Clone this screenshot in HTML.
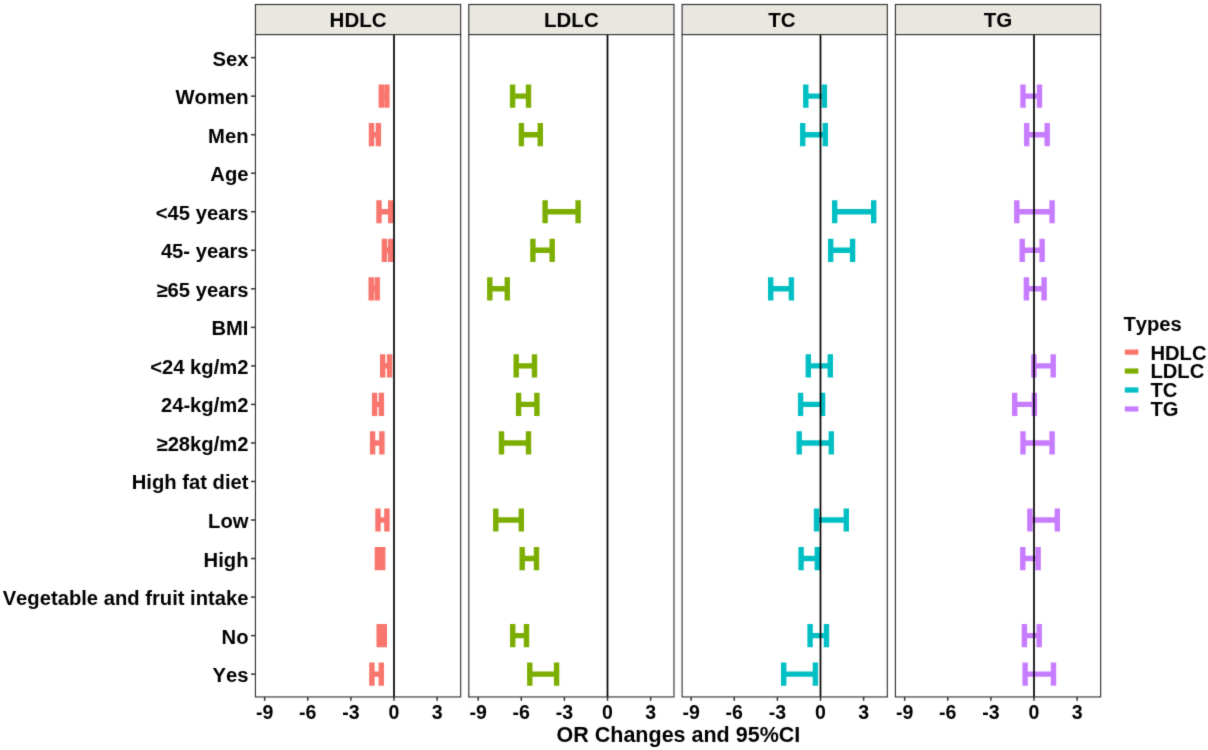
<!DOCTYPE html><html><head><meta charset="utf-8"><style>html,body{margin:0;padding:0;background:#fff;}svg{display:block;}text{font-family:"Liberation Sans",sans-serif;font-weight:bold;fill:#000;font-kerning:none;}</style></head><body>
<svg width="1208" height="750" viewBox="0 0 1208 750">
<defs><filter id="bl" x="0" y="0" width="1208" height="750" filterUnits="userSpaceOnUse" color-interpolation-filters="sRGB"><feConvolveMatrix order="3" kernelMatrix="0.01440 0.09120 0.01440 0.09120 0.57760 0.09120 0.01440 0.09120 0.01440" edgeMode="duplicate" preserveAlpha="true"/></filter></defs><g filter="url(#bl)">
<rect x="0" y="0" width="1208" height="750" fill="#fff"/>
<rect x="255.45" y="4.5" width="205.2" height="30.1" fill="#EAE7E1" stroke="#333333" stroke-width="1.15"/>
<text x="358.05" y="27" font-size="20.5" text-anchor="middle">HDLC</text>
<rect x="255.45" y="34.6" width="205.2" height="662.35" fill="#fff" stroke="none"/>
<path d="M381.3 84.55V107.75M386.9 84.55V107.75M381.3 96.15H386.9M371.5 123.09V146.29M378.4 123.09V146.29M371.5 134.69H378.4M379 200.15V223.35M390.7 200.15V223.35M379 211.75H390.7M384.4 238.69V261.89M390.7 238.69V261.89M384.4 250.29H390.7M371.2 277.22V300.42M377.2 277.22V300.42M371.2 288.82H377.2M382.7 354.28V377.48M389.6 354.28V377.48M382.7 365.88H389.6M374.6 392.82V416.02M381.4 392.82V416.02M374.6 404.42H381.4M372.6 431.35V454.55M381.9 431.35V454.55M372.6 442.95H381.9M378 508.42V531.62M386.9 508.42V531.62M378 520.02H386.9M377.4 546.95V570.15M382.7 546.95V570.15M377.4 558.55H382.7M379.2 624.01V647.22M384.3 624.01V647.22M379.2 635.62H384.3M371.9 662.55V685.75M381.3 662.55V685.75M371.9 674.15H381.3" fill="none" stroke="#F8766D" stroke-width="5.4" stroke-linecap="butt"/>
<line x1="394" y1="34.6" x2="394" y2="696.95" stroke="#000" stroke-width="1.7"/>
<rect x="255.45" y="34.6" width="205.2" height="662.35" fill="none" stroke="#333333" stroke-width="1.15"/>
<line x1="264.67" y1="696.95" x2="264.67" y2="700.8" stroke="#333333" stroke-width="1.5"/>
<text x="264.67" y="718.6" font-size="19.5" text-anchor="middle">-9</text>
<line x1="307.78" y1="696.95" x2="307.78" y2="700.8" stroke="#333333" stroke-width="1.5"/>
<text x="307.78" y="718.6" font-size="19.5" text-anchor="middle">-6</text>
<line x1="350.89" y1="696.95" x2="350.89" y2="700.8" stroke="#333333" stroke-width="1.5"/>
<text x="350.89" y="718.6" font-size="19.5" text-anchor="middle">-3</text>
<line x1="394" y1="696.95" x2="394" y2="700.8" stroke="#333333" stroke-width="1.5"/>
<text x="394" y="718.6" font-size="19.5" text-anchor="middle">0</text>
<line x1="437.11" y1="696.95" x2="437.11" y2="700.8" stroke="#333333" stroke-width="1.5"/>
<text x="437.11" y="718.6" font-size="19.5" text-anchor="middle">3</text>
<rect x="468.78" y="4.5" width="205.2" height="30.1" fill="#EAE7E1" stroke="#333333" stroke-width="1.15"/>
<text x="571.38" y="27" font-size="20.5" text-anchor="middle">LDLC</text>
<rect x="468.78" y="34.6" width="205.2" height="662.35" fill="#fff" stroke="none"/>
<path d="M512.6 84.55V107.75M528.5 84.55V107.75M512.6 96.15H528.5M521.4 123.09V146.29M540.3 123.09V146.29M521.4 134.69H540.3M545.1 200.15V223.35M578.1 200.15V223.35M545.1 211.75H578.1M532.9 238.69V261.89M552.2 238.69V261.89M532.9 250.29H552.2M489.8 277.22V300.42M507.3 277.22V300.42M489.8 288.82H507.3M516.2 354.28V377.48M534.5 354.28V377.48M516.2 365.88H534.5M518.6 392.82V416.02M536.9 392.82V416.02M518.6 404.42H536.9M501.5 431.35V454.55M528.5 431.35V454.55M501.5 442.95H528.5M495.8 508.42V531.62M521.3 508.42V531.62M495.8 520.02H521.3M522.2 546.95V570.15M536.5 546.95V570.15M522.2 558.55H536.5M512.7 624.01V647.22M526.5 624.01V647.22M512.7 635.62H526.5M529.8 662.55V685.75M556.6 662.55V685.75M529.8 674.15H556.6" fill="none" stroke="#7CAE00" stroke-width="5.4" stroke-linecap="butt"/>
<line x1="607.5" y1="34.6" x2="607.5" y2="696.95" stroke="#000" stroke-width="1.7"/>
<rect x="468.78" y="34.6" width="205.2" height="662.35" fill="none" stroke="#333333" stroke-width="1.15"/>
<line x1="478.17" y1="696.95" x2="478.17" y2="700.8" stroke="#333333" stroke-width="1.5"/>
<text x="478.17" y="718.6" font-size="19.5" text-anchor="middle">-9</text>
<line x1="521.28" y1="696.95" x2="521.28" y2="700.8" stroke="#333333" stroke-width="1.5"/>
<text x="521.28" y="718.6" font-size="19.5" text-anchor="middle">-6</text>
<line x1="564.39" y1="696.95" x2="564.39" y2="700.8" stroke="#333333" stroke-width="1.5"/>
<text x="564.39" y="718.6" font-size="19.5" text-anchor="middle">-3</text>
<line x1="607.5" y1="696.95" x2="607.5" y2="700.8" stroke="#333333" stroke-width="1.5"/>
<text x="607.5" y="718.6" font-size="19.5" text-anchor="middle">0</text>
<line x1="650.61" y1="696.95" x2="650.61" y2="700.8" stroke="#333333" stroke-width="1.5"/>
<text x="650.61" y="718.6" font-size="19.5" text-anchor="middle">3</text>
<rect x="682.11" y="4.5" width="205.2" height="30.1" fill="#EAE7E1" stroke="#333333" stroke-width="1.15"/>
<text x="781.91" y="27" font-size="20.5" text-anchor="middle">TC</text>
<rect x="682.11" y="34.6" width="205.2" height="662.35" fill="#fff" stroke="none"/>
<path d="M805.8 84.55V107.75M824.4 84.55V107.75M805.8 96.15H824.4M802.7 123.09V146.29M825.3 123.09V146.29M802.7 134.69H825.3M834.7 200.15V223.35M873.7 200.15V223.35M834.7 211.75H873.7M830.7 238.69V261.89M852.6 238.69V261.89M830.7 250.29H852.6M770.7 277.22V300.42M791.4 277.22V300.42M770.7 288.82H791.4M808.3 354.28V377.48M830.3 354.28V377.48M808.3 365.88H830.3M800.6 392.82V416.02M822.6 392.82V416.02M800.6 404.42H822.6M799.2 431.35V454.55M831.3 431.35V454.55M799.2 442.95H831.3M816.5 508.42V531.62M846.3 508.42V531.62M816.5 520.02H846.3M801.1 546.95V570.15M817.3 546.95V570.15M801.1 558.55H817.3M810.1 624.01V647.22M826.5 624.01V647.22M810.1 635.62H826.5M783.7 662.55V685.75M815.4 662.55V685.75M783.7 674.15H815.4" fill="none" stroke="#00BFC4" stroke-width="5.4" stroke-linecap="butt"/>
<line x1="820.5" y1="34.6" x2="820.5" y2="696.95" stroke="#000" stroke-width="1.7"/>
<rect x="682.11" y="34.6" width="205.2" height="662.35" fill="none" stroke="#333333" stroke-width="1.15"/>
<line x1="691.17" y1="696.95" x2="691.17" y2="700.8" stroke="#333333" stroke-width="1.5"/>
<text x="691.17" y="718.6" font-size="19.5" text-anchor="middle">-9</text>
<line x1="734.28" y1="696.95" x2="734.28" y2="700.8" stroke="#333333" stroke-width="1.5"/>
<text x="734.28" y="718.6" font-size="19.5" text-anchor="middle">-6</text>
<line x1="777.39" y1="696.95" x2="777.39" y2="700.8" stroke="#333333" stroke-width="1.5"/>
<text x="777.39" y="718.6" font-size="19.5" text-anchor="middle">-3</text>
<line x1="820.5" y1="696.95" x2="820.5" y2="700.8" stroke="#333333" stroke-width="1.5"/>
<text x="820.5" y="718.6" font-size="19.5" text-anchor="middle">0</text>
<line x1="863.61" y1="696.95" x2="863.61" y2="700.8" stroke="#333333" stroke-width="1.5"/>
<text x="863.61" y="718.6" font-size="19.5" text-anchor="middle">3</text>
<rect x="895.44" y="4.5" width="205.2" height="30.1" fill="#EAE7E1" stroke="#333333" stroke-width="1.15"/>
<text x="998.04" y="27" font-size="20.5" text-anchor="middle">TG</text>
<rect x="895.44" y="34.6" width="205.2" height="662.35" fill="#fff" stroke="none"/>
<path d="M1023 84.55V107.75M1039.5 84.55V107.75M1023 96.15H1039.5M1026.7 123.09V146.29M1047.2 123.09V146.29M1026.7 134.69H1047.2M1016.8 200.15V223.35M1052.1 200.15V223.35M1016.8 211.75H1052.1M1022.2 238.69V261.89M1042.1 238.69V261.89M1022.2 250.29H1042.1M1026.4 277.22V300.42M1044.1 277.22V300.42M1026.4 288.82H1044.1M1033.9 354.28V377.48M1053.2 354.28V377.48M1033.9 365.88H1053.2M1014.7 392.82V416.02M1034.4 392.82V416.02M1014.7 404.42H1034.4M1023 431.35V454.55M1052.1 431.35V454.55M1023 442.95H1052.1M1029.9 508.42V531.62M1057.3 508.42V531.62M1029.9 520.02H1057.3M1022.8 546.95V570.15M1038.1 546.95V570.15M1022.8 558.55H1038.1M1024.4 624.01V647.22M1039.2 624.01V647.22M1024.4 635.62H1039.2M1025.1 662.55V685.75M1053.5 662.55V685.75M1025.1 674.15H1053.5" fill="none" stroke="#C77CFF" stroke-width="5.4" stroke-linecap="butt"/>
<line x1="1034" y1="34.6" x2="1034" y2="696.95" stroke="#000" stroke-width="1.7"/>
<rect x="895.44" y="34.6" width="205.2" height="662.35" fill="none" stroke="#333333" stroke-width="1.15"/>
<line x1="904.67" y1="696.95" x2="904.67" y2="700.8" stroke="#333333" stroke-width="1.5"/>
<text x="904.67" y="718.6" font-size="19.5" text-anchor="middle">-9</text>
<line x1="947.78" y1="696.95" x2="947.78" y2="700.8" stroke="#333333" stroke-width="1.5"/>
<text x="947.78" y="718.6" font-size="19.5" text-anchor="middle">-6</text>
<line x1="990.89" y1="696.95" x2="990.89" y2="700.8" stroke="#333333" stroke-width="1.5"/>
<text x="990.89" y="718.6" font-size="19.5" text-anchor="middle">-3</text>
<line x1="1034" y1="696.95" x2="1034" y2="700.8" stroke="#333333" stroke-width="1.5"/>
<text x="1034" y="718.6" font-size="19.5" text-anchor="middle">0</text>
<line x1="1077.11" y1="696.95" x2="1077.11" y2="700.8" stroke="#333333" stroke-width="1.5"/>
<text x="1077.11" y="718.6" font-size="19.5" text-anchor="middle">3</text>
<line x1="251" y1="57.62" x2="255.45" y2="57.62" stroke="#333333" stroke-width="1.5"/>
<text x="248.5" y="65.62" font-size="20.22" text-anchor="end">Sex</text>
<line x1="251" y1="96.15" x2="255.45" y2="96.15" stroke="#333333" stroke-width="1.5"/>
<text x="248.5" y="104.15" font-size="20.22" text-anchor="end">Women</text>
<line x1="251" y1="134.69" x2="255.45" y2="134.69" stroke="#333333" stroke-width="1.5"/>
<text x="248.5" y="142.69" font-size="20.22" text-anchor="end">Men</text>
<line x1="251" y1="173.22" x2="255.45" y2="173.22" stroke="#333333" stroke-width="1.5"/>
<text x="248.5" y="181.22" font-size="20.22" text-anchor="end">Age</text>
<line x1="251" y1="211.75" x2="255.45" y2="211.75" stroke="#333333" stroke-width="1.5"/>
<text x="248.5" y="219.75" font-size="20.22" text-anchor="end">&lt;45 years</text>
<line x1="251" y1="250.29" x2="255.45" y2="250.29" stroke="#333333" stroke-width="1.5"/>
<text x="248.5" y="258.29" font-size="20.22" text-anchor="end">45- years</text>
<line x1="251" y1="288.82" x2="255.45" y2="288.82" stroke="#333333" stroke-width="1.5"/>
<text x="248.5" y="296.82" font-size="20.22" text-anchor="end">≥65 years</text>
<line x1="251" y1="327.35" x2="255.45" y2="327.35" stroke="#333333" stroke-width="1.5"/>
<text x="248.5" y="335.35" font-size="20.22" text-anchor="end">BMI</text>
<line x1="251" y1="365.88" x2="255.45" y2="365.88" stroke="#333333" stroke-width="1.5"/>
<text x="248.5" y="373.88" font-size="20.22" text-anchor="end">&lt;24 kg/m2</text>
<line x1="251" y1="404.42" x2="255.45" y2="404.42" stroke="#333333" stroke-width="1.5"/>
<text x="248.5" y="412.42" font-size="20.22" text-anchor="end">24-kg/m2</text>
<line x1="251" y1="442.95" x2="255.45" y2="442.95" stroke="#333333" stroke-width="1.5"/>
<text x="248.5" y="450.95" font-size="20.22" text-anchor="end">≥28kg/m2</text>
<line x1="251" y1="481.48" x2="255.45" y2="481.48" stroke="#333333" stroke-width="1.5"/>
<text x="248.5" y="489.48" font-size="20.22" text-anchor="end">High fat diet</text>
<line x1="251" y1="520.02" x2="255.45" y2="520.02" stroke="#333333" stroke-width="1.5"/>
<text x="248.5" y="528.02" font-size="20.22" text-anchor="end">Low</text>
<line x1="251" y1="558.55" x2="255.45" y2="558.55" stroke="#333333" stroke-width="1.5"/>
<text x="248.5" y="566.55" font-size="20.22" text-anchor="end">High</text>
<line x1="251" y1="597.08" x2="255.45" y2="597.08" stroke="#333333" stroke-width="1.5"/>
<text x="248.5" y="605.08" font-size="20.22" text-anchor="end">Vegetable and fruit intake</text>
<line x1="251" y1="635.62" x2="255.45" y2="635.62" stroke="#333333" stroke-width="1.5"/>
<text x="248.5" y="643.62" font-size="20.22" text-anchor="end">No</text>
<line x1="251" y1="674.15" x2="255.45" y2="674.15" stroke="#333333" stroke-width="1.5"/>
<text x="248.5" y="682.15" font-size="20.22" text-anchor="end">Yes</text>
<text x="678.4" y="742.3" font-size="21.5" text-anchor="middle">OR Changes and 95%CI</text>
<text x="1123.4" y="331" font-size="20.2">Types</text>
<line x1="1124.8" y1="352.1" x2="1138.4" y2="352.1" stroke="#F8766D" stroke-width="5.2"/>
<text x="1150.4" y="359.5" font-size="20.2">HDLC</text>
<line x1="1124.8" y1="371.05" x2="1138.4" y2="371.05" stroke="#7CAE00" stroke-width="5.2"/>
<text x="1150.4" y="378.45" font-size="20.2">LDLC</text>
<line x1="1124.8" y1="390" x2="1138.4" y2="390" stroke="#00BFC4" stroke-width="5.2"/>
<text x="1150.4" y="397.4" font-size="20.2">TC</text>
<line x1="1124.8" y1="408.95" x2="1138.4" y2="408.95" stroke="#C77CFF" stroke-width="5.2"/>
<text x="1150.4" y="416.35" font-size="20.2">TG</text>
</g></svg></body></html>
